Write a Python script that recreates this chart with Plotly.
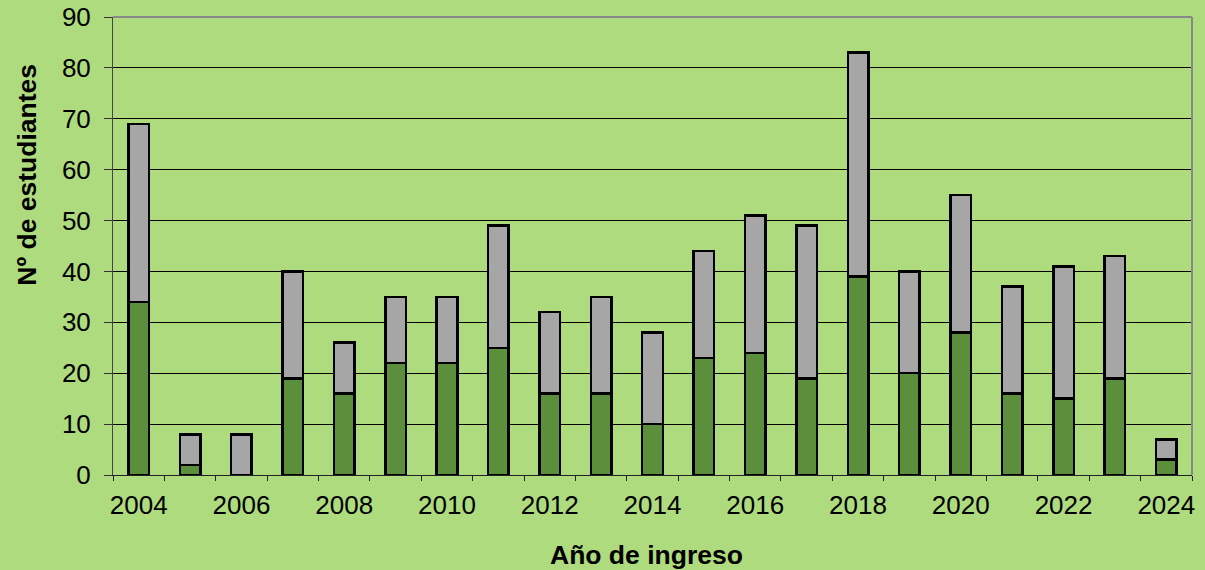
import plotly.graph_objects as go

years = list(range(2004, 2025))
green_vals = [34, 2, 0, 19, 16, 22, 22, 25, 16, 16, 10, 23, 24, 19, 39, 20, 28, 16, 15, 19, 3]
totals = [69, 8, 8, 40, 26, 35, 35, 49, 32, 35, 28, 44, 51, 49, 83, 40, 55, 37, 41, 43, 7]
grey_vals = [t - g for t, g in zip(totals, green_vals)]
x_tick_labels = [str(y) for y in range(2004, 2025, 2)]
y_ticks = list(range(0, 91, 10))

BG = "#aedb7e"
GREEN = "#5b8f3b"
GREY = "#a6a6a6"
FONT = "Liberation Sans, Arial, sans-serif"

fig = go.Figure()
fig.add_trace(go.Bar(x=years, y=green_vals, width=0.4, marker=dict(color=GREEN, line=dict(color="black", width=2.5)), showlegend=False))
fig.add_trace(go.Bar(x=years, y=grey_vals, width=0.4, marker=dict(color=GREY, line=dict(color="black", width=2.5)), showlegend=False))

fig.update_layout(
    barmode="stack",
    width=1205, height=570,
    margin=dict(l=113, r=13, t=17, b=95, autoexpand=False),
    paper_bgcolor=BG, plot_bgcolor=BG,
    font=dict(family=FONT, size=26, color="black"),
)
fig.update_xaxes(
    range=[2003.5, 2024.5], automargin=False,
    tickvals=list(range(2004, 2025, 2)), ticktext=x_tick_labels,
    ticks="", showgrid=False, ticklabelstandoff=7,
    showline=True, linecolor="#222222", linewidth=1,
    minor=dict(tickvals=[y - 0.5 for y in range(2004, 2026)], ticks="outside", ticklen=5, tickcolor="#222222", showgrid=False),
    tickfont=dict(size=26),
)
fig.update_yaxes(
    range=[0, 90], tickvals=y_ticks, automargin=False,
    ticks="outside", ticklen=8, tickcolor="#333333", ticklabelstandoff=8,
    showgrid=True, gridcolor="black", gridwidth=1,
    showline=True, linecolor="#444444", linewidth=1,
    zeroline=False, tickfont=dict(size=26),
)
# top and right plot borders
fig.add_shape(type="line", xref="paper", yref="paper", x0=0, x1=1, y0=1, y1=1, line=dict(color="#888888", width=2))
fig.add_shape(type="line", xref="paper", yref="paper", x0=1, x1=1, y0=0, y1=1, line=dict(color="#888888", width=2))

fig.add_annotation(text="<b>Año de ingreso</b>", xref="paper", yref="paper", x=0.494, y=-0.175,
                   xanchor="center", yanchor="middle", showarrow=False, font=dict(size=26.5, family=FONT))
fig.add_annotation(text="<b>Nº de estudiantes</b>", xref="paper", yref="paper", x=-0.08, y=0.655,
                   xanchor="center", yanchor="middle", textangle=-90, showarrow=False, font=dict(size=26.5, family=FONT))

fig.write_html("out.html", config={"displayModeBar": False},
               post_script="document.body.style.margin='0';document.body.style.overflow='hidden';")
